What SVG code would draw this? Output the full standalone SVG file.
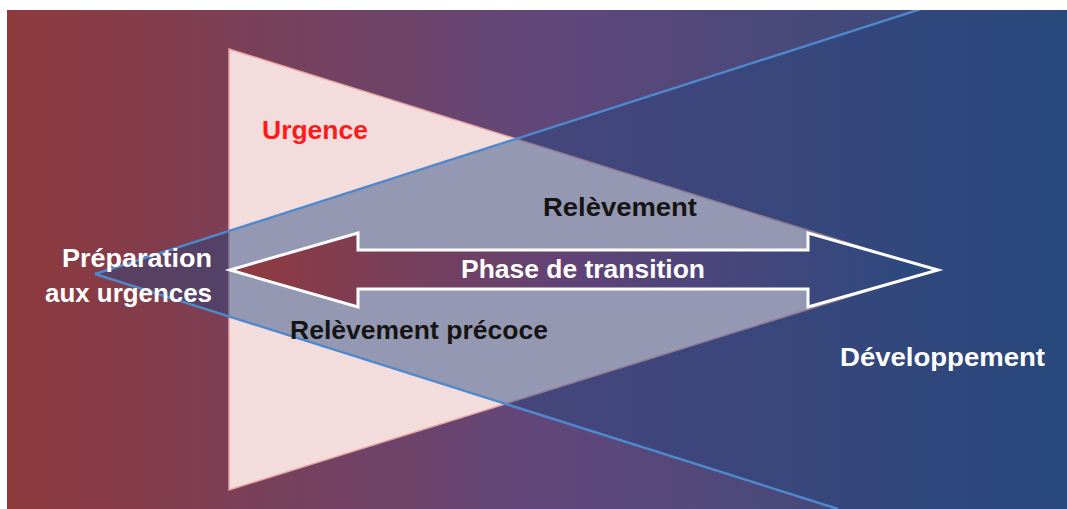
<svg xmlns="http://www.w3.org/2000/svg" width="1067" height="509" viewBox="0 0 1067 509">
<defs>
<linearGradient id="bg" x1="7" y1="0" x2="1067" y2="0" gradientUnits="userSpaceOnUse">
<stop offset="0" stop-color="#8f393b"/>
<stop offset="0.5" stop-color="#62477a"/>
<stop offset="1" stop-color="#2d4b7b"/>
</linearGradient>
<linearGradient id="arr" x1="230" y1="0" x2="938" y2="0" gradientUnits="userSpaceOnUse">
<stop offset="0" stop-color="#913a3e"/>
<stop offset="0.5" stop-color="#5e4378"/>
<stop offset="1" stop-color="#284a80"/>
</linearGradient>
<clipPath id="clip"><rect x="7" y="10" width="1060" height="499"/></clipPath>
<style>
.lbl{font-family:"Liberation Sans","DejaVu Sans",sans-serif;font-weight:bold;font-size:25px}
.w{fill:#ffffff}
.k{fill:#151515}
.line{stroke:#4f88cc;stroke-width:2.4;fill:none}
</style>
</defs>
<rect x="0" y="0" width="1067" height="509" fill="#ffffff"/>
<rect id="background" x="7" y="10" width="1060" height="499" fill="url(#bg)"/>
<g id="urgence">
<polygon points="229,49 935,270 229,490" fill="#f2dcdc" stroke="#e7a3a3" stroke-width="1.5"/>
</g>
<g id="preparation-cone" clip-path="url(#clip)">
<polygon points="95,274 924,8 1067,8 1067,509 838,509" fill="#24457f" fill-opacity="0.45"/>
</g>
<g id="connectors" clip-path="url(#clip)">
<line class="line" x1="95" y1="274" x2="924" y2="8"/>
<line class="line" x1="95" y1="274" x2="838" y2="509"/>
</g>
<g id="transition-arrow">
<polygon points="230,270 358,233 358,250 808,250 808,233 938,270 808,307 808,289 358,289 358,307" fill="url(#arr)" stroke="#ffffff" stroke-width="3" stroke-linejoin="miter"/>
</g>
<g id="labels">
<text class="lbl" x="262" y="139" fill="#ff1a1a" textLength="106" lengthAdjust="spacingAndGlyphs">Urgence</text>
<text class="lbl k" x="543" y="216" textLength="154" lengthAdjust="spacingAndGlyphs">Relèvement</text>
<text class="lbl w" x="461" y="278" textLength="244" lengthAdjust="spacingAndGlyphs">Phase de transition</text>
<text class="lbl k" x="290" y="339" textLength="258" lengthAdjust="spacingAndGlyphs">Relèvement précoce</text>
<text class="lbl w" x="62" y="267" textLength="150" lengthAdjust="spacingAndGlyphs">Préparation</text>
<text class="lbl w" x="45" y="302" textLength="167" lengthAdjust="spacingAndGlyphs">aux urgences</text>
<text class="lbl w" x="840" y="366" textLength="205" lengthAdjust="spacingAndGlyphs">Développement</text>
</g>
</svg>
